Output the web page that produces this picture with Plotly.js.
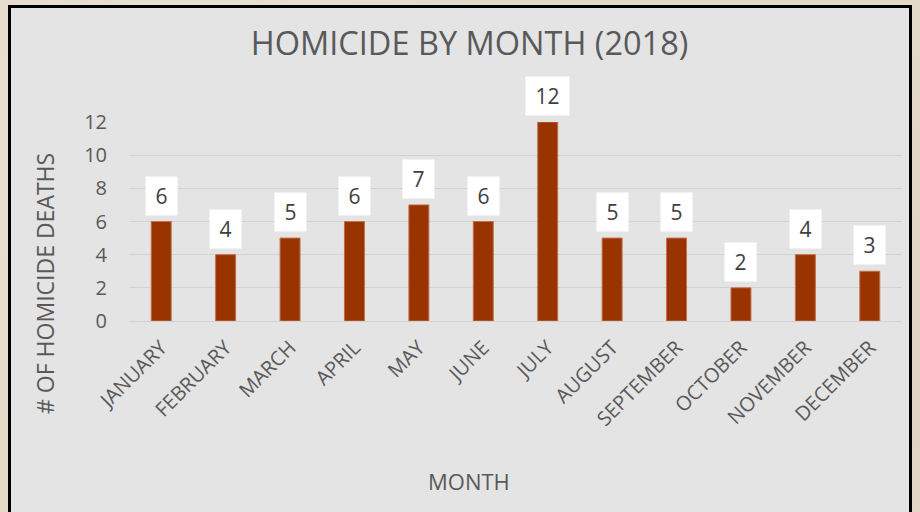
<!DOCTYPE html>
<html>
<head>
<meta charset="utf-8">
<script src="https://cdn.plot.ly/plotly-3.0.1.min.js"></script>
<style>
  html, body { margin:0; padding:0; width:920px; height:512px; overflow:hidden;
    background:#e4dac8;
    background-image:
      radial-gradient(circle at 20% 30%, rgba(255,255,255,0.25) 0, rgba(255,255,255,0) 40%),
      radial-gradient(circle at 80% 70%, rgba(180,160,130,0.18) 0, rgba(180,160,130,0) 45%);
  }
  #frame { position:absolute; left:8px; top:5px; width:898px; height:520px;
    border:3px solid #000; background:#e4e4e4; }
  #chart { position:absolute; left:11px; top:8px; width:898px; height:504px; }
</style>
</head>
<body>
<div id="frame"></div>
<div id="chart"></div>
<script>
const months = ["JANUARY","FEBRUARY","MARCH","APRIL","MAY","JUNE","JULY","AUGUST","SEPTEMBER","OCTOBER","NOVEMBER","DECEMBER"];
const deaths = [6,4,5,6,7,6,12,5,5,2,4,3];
const yTicks = [0,2,4,6,8,10,12];
const chartTitle = "HOMICIDE BY MONTH (2018)";
const xTitle = "MONTH";
const yTitle = "# OF HOMICIDE DEATHS";

const FONT = "'Open Sans', 'Noto Sans', sans-serif";
const labelAnnotations = months.map((m, i) => ({
  x: m, y: deaths[i], xref: 'x', yref: 'y',
  text: String(deaths[i]), showarrow: false,
  yanchor: 'bottom', yshift: 6,
  width: 17 + 12 * String(deaths[i]).length, height: 36,
  bgcolor: '#ffffff', borderpad: 1,
  font: {family: FONT, size: 21, color: '#404040'}
}));

const trace = {
  type: 'bar', x: months, y: deaths,
  marker: {color: '#993300', line: {color: '#c0704a', width: 1}},
  hoverinfo: 'none'
};

const layout = {
  width: 898, height: 504,
  margin: {l:118, r:7, t:114, b:191},
  paper_bgcolor: '#e4e4e4', plot_bgcolor: '#e4e4e4',
  font: {family: FONT, color: '#595959'},
  title: {text: chartTitle, xref: 'container', yref: 'container',
          x: 0.5106, y: 0.9286, xanchor: 'center', yanchor: 'middle',
          font: {family: FONT, size: 32.5, color: '#595959'}},
  bargap: 0.69,
  showlegend: false,
  xaxis: {type: 'category', tickangle: -45, showgrid: false, zeroline: false,
          showline: false, ticks: '', ticklabelstandoff: 10,
          tickfont: {family: FONT, size: 20, color: '#595959'}},
  yaxis: {range: [0, 12], tickvals: yTicks, ticktext: yTicks.map(String),
          showgrid: true, gridcolor: '#d2d2d2', gridwidth: 1,
          zeroline: true, zerolinecolor: '#d2d2d2', zerolinewidth: 1,
          showline: false, ticks: '', ticklabelstandoff: 21,
          tickfont: {family: FONT, size: 20, color: '#595959'}},
  annotations: labelAnnotations.concat([
    {text: yTitle, xref: 'paper', yref: 'paper', x: -0.1087, y: 0.191,
     xanchor: 'center', yanchor: 'middle', textangle: -90, showarrow: false,
     font: {family: FONT, size: 23, color: '#595959'}},
    {text: xTitle, xref: 'paper', yref: 'paper', x: 0.4398, y: -0.8065,
     xanchor: 'center', yanchor: 'middle', showarrow: false,
     font: {family: FONT, size: 22, color: '#595959'}}
  ])
};

Plotly.newPlot('chart', [trace], layout, {displayModeBar: false, staticPlot: true});
</script>
</body>
</html>
